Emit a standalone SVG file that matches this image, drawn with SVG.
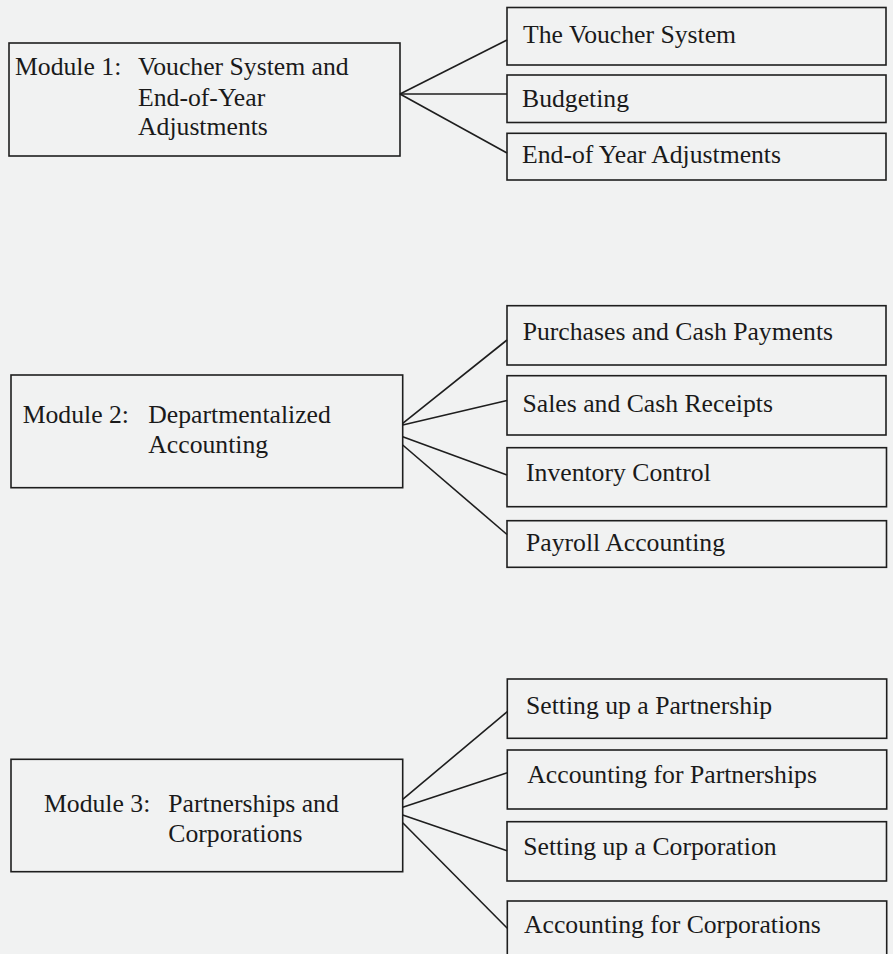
<svg xmlns="http://www.w3.org/2000/svg" width="893" height="954" viewBox="0 0 893 954">
<style>
.box{fill:none;stroke:#1e1e1e;stroke-width:1.6}
.con line{stroke:#1e1e1e;stroke-width:1.6}
text{font-family:"Liberation Serif","Times New Roman",serif;font-size:25.7px;fill:#1a1a1a}
</style>
<rect x="0" y="0" width="893" height="954" fill="#f1f2f2"/>
<g id="m1">
<rect class="box" x="9" y="43" width="391" height="113"/>
<text x="15" y="75">Module 1:</text>
<text x="138" y="75">Voucher System and</text>
<text x="138" y="105.5">End-of-Year</text>
<text x="138" y="135">Adjustments</text>
</g>
<g id="m1a"><rect class="box" x="507" y="7.5" width="379" height="57.5"/><text x="523" y="43.3">The Voucher System</text></g>
<g id="m1b"><rect class="box" x="507" y="75" width="379" height="47.5"/><text x="522" y="107.3">Budgeting</text></g>
<g id="m1c"><rect class="box" x="507" y="133.3" width="379" height="46.7"/><text x="522" y="162.7">End-of Year Adjustments</text></g>
<g id="m2">
<rect class="box" x="11" y="375" width="391.7" height="112.7"/>
<text x="22.7" y="423.3">Module 2:</text>
<text x="148.3" y="423.3">Departmentalized</text>
<text x="148.3" y="452.7">Accounting</text>
</g>
<g id="m2a"><rect class="box" x="507" y="305.7" width="379" height="59.3"/><text x="522.7" y="340">Purchases and Cash Payments</text></g>
<g id="m2b"><rect class="box" x="507" y="375.7" width="379" height="59.3"/><text x="522.5" y="412.3">Sales and Cash Receipts</text></g>
<g id="m2c"><rect class="box" x="507" y="447.7" width="379.5" height="59"/><text x="526" y="480.7">Inventory Control</text></g>
<g id="m2d"><rect class="box" x="507" y="520.7" width="379.5" height="46.6"/><text x="526" y="550.7">Payroll Accounting</text></g>
<g id="m3">
<rect class="box" x="11" y="759.3" width="391.7" height="112.4"/>
<text x="44" y="812.3">Module 3:</text>
<text x="168.3" y="812.3">Partnerships and</text>
<text x="168.3" y="842.3">Corporations</text>
</g>
<g id="m3a"><rect class="box" x="507.3" y="679" width="379.4" height="59.3"/><text x="526" y="714.3">Setting up a Partnership</text></g>
<g id="m3b"><rect class="box" x="507.3" y="750" width="379.4" height="59"/><text x="527.3" y="782.7">Accounting for Partnerships</text></g>
<g id="m3c"><rect class="box" x="507" y="821.7" width="379.5" height="59.3"/><text x="523.3" y="855">Setting up a Corporation</text></g>
<g id="m3d"><rect class="box" x="507.3" y="901" width="379.4" height="70"/><text x="524" y="933.3">Accounting for Corporations</text></g>
<g id="connectors" class="con">
<line x1="400" y1="94" x2="507" y2="40"/>
<line x1="400" y1="94" x2="507" y2="94"/>
<line x1="400" y1="94" x2="507" y2="153"/>
<line x1="402.7" y1="423.3" x2="507" y2="340"/>
<line x1="402.7" y1="425" x2="507" y2="400.5"/>
<line x1="402.7" y1="436.7" x2="507" y2="475"/>
<line x1="402.7" y1="445" x2="507" y2="534.5"/>
<line x1="402.7" y1="799.3" x2="507.3" y2="711.7"/>
<line x1="402.7" y1="807.3" x2="507.3" y2="772.7"/>
<line x1="402.7" y1="815" x2="507" y2="850.7"/>
<line x1="402.7" y1="822.7" x2="507.3" y2="928.3"/>
</g>
</svg>
